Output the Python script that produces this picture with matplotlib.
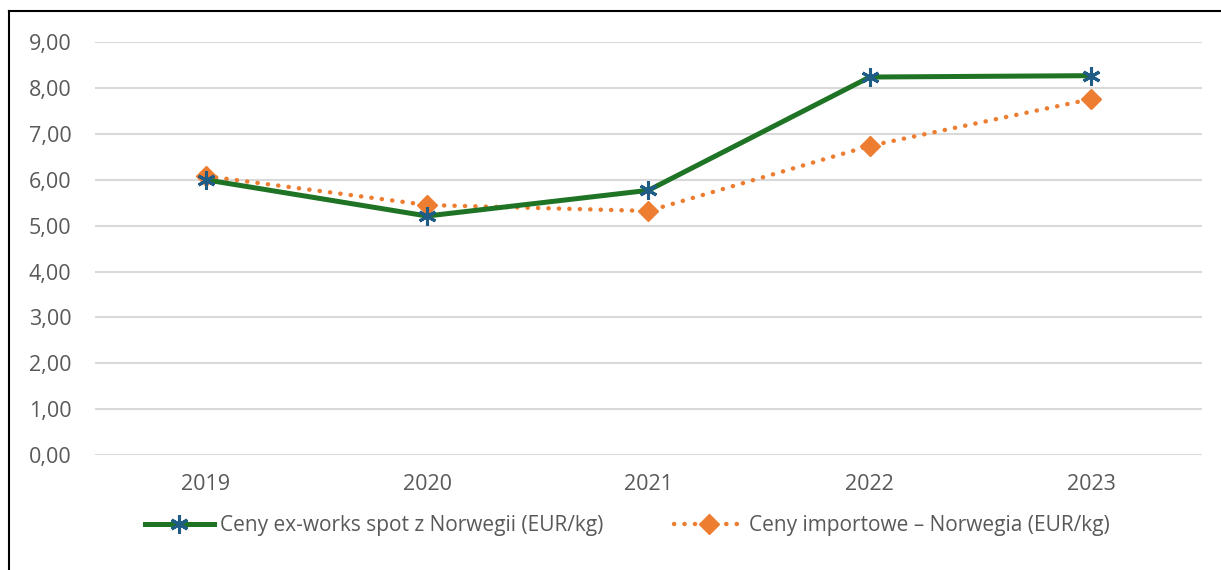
import matplotlib.pyplot as plt
from matplotlib.lines import Line2D
from matplotlib.ticker import FuncFormatter

plt.rcParams['font.family'] = ['Open Sans', 'DejaVu Sans']

years = ['2019', '2020', '2021', '2022', '2023']
spot = [6.00, 5.21, 5.77, 8.24, 8.27]
imports = [6.08, 5.45, 5.32, 6.74, 7.76]
labels = ['Ceny ex-works spot z Norwegii (EUR/kg)',
          'Ceny importowe \u2013 Norwegia (EUR/kg)']

green = '#1e7324'
blue = '#1f5d86'
orange = '#ed7d31'
grey = '#595959'

fig = plt.figure(figsize=(12.21, 5.70), dpi=100)
ax = fig.add_axes([0.0778, 0.2018, 0.9065, 0.7242])

dots = (0, (0.05, 2.3))
x = range(len(years))
ax.plot(x, imports, color=orange, lw=3.2, linestyle=dots,
        dash_capstyle='round', marker='D', markersize=10,
        markerfacecolor=orange, markeredgecolor=orange, zorder=3)
ax.plot(x, spot, color=green, lw=3.6, solid_capstyle='round', zorder=4,
        marker=(6, 2, 0), markersize=13, markeredgecolor=blue,
        markeredgewidth=2.2)

ax.set_xlim(-0.5, len(years) - 0.5)
ax.set_ylim(0, 9)
ax.set_yticks(range(0, 10))
ax.yaxis.set_major_formatter(FuncFormatter(lambda v, p: f'{v:.2f}'.replace('.', ',')))
ax.set_xticks(list(x))
ax.set_xticklabels(years)
ax.grid(axis='y', color='#d9d9d9', lw=1.5)
ax.set_axisbelow(True)
for s in ax.spines.values():
    s.set_visible(False)
ax.tick_params(length=0, labelsize=15.5, labelcolor=grey)
ax.tick_params(axis='y', pad=17)
ax.tick_params(axis='x', pad=14)

h1 = Line2D([], [], color=green, lw=3.6, marker=(6, 2, 0), markersize=13,
            markeredgecolor=blue, markeredgewidth=2.2)
h2 = Line2D([], [], color=orange, lw=3.2, linestyle=dots,
            dash_capstyle='round', marker='D', markersize=10,
            markerfacecolor=orange, markeredgecolor=orange)
leg = fig.legend([h1, h2], labels, ncol=2, frameon=False,
                 loc='center', bbox_to_anchor=(0.514, 0.078),
                 fontsize=15, handlelength=3.3, columnspacing=3.4,
                 handletextpad=0.3)
for t in leg.get_texts():
    t.set_color(grey)

# outer frame (left and top edges visible)
fig.add_artist(Line2D([9 / 1221, 9 / 1221], [0, 1 - 11 / 570],
                      transform=fig.transFigure, color='black', lw=1.5))
fig.add_artist(Line2D([9 / 1221, 1], [1 - 11 / 570, 1 - 11 / 570],
                      transform=fig.transFigure, color='black', lw=1.5))

fig.savefig('out.png', dpi=100)
